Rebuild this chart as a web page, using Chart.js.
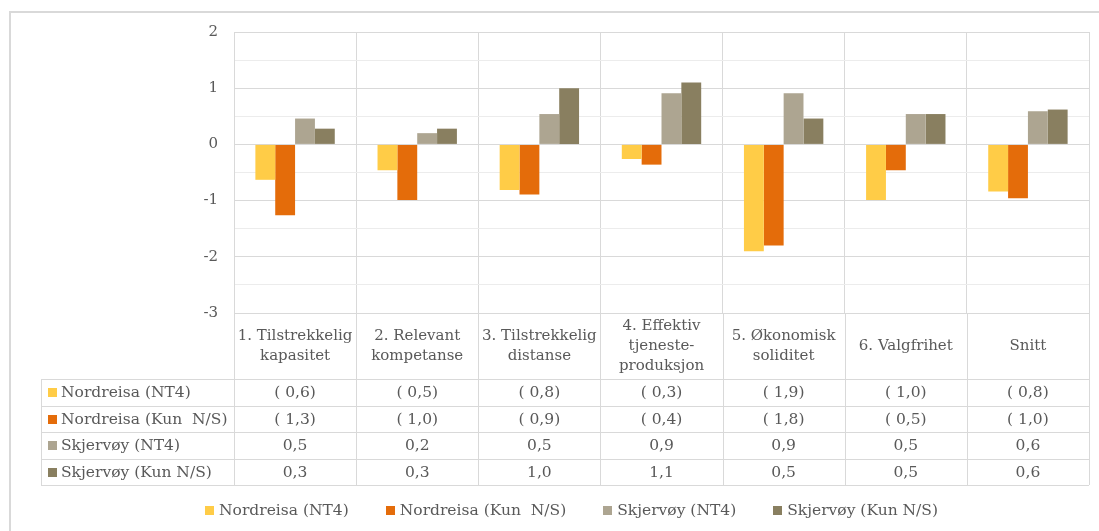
<!DOCTYPE html>
<html>
<head>
<meta charset="utf-8">
<title>Nordreisa og Skjervøy</title>
<script src="https://cdn.jsdelivr.net/npm/chart.js@4.4.0/dist/chart.umd.min.js"></script>
<style>
    html, body { margin: 0; padding: 0; background: #fff; }
    #wrap { width: 1099px; height: 531px; }
</style>
</head>
<body>
<div id="wrap"><canvas id="chart" width="1099" height="531"></canvas></div>
<script>
// Kategorier (en linje per tekstlinje i tabellhodet)
const categories = [
    ['1. Tilstrekkelig', 'kapasitet'],
    ['2. Relevant', 'kompetanse'],
    ['3. Tilstrekkelig', 'distanse'],
    ['4. Effektiv', 'tjeneste-', 'produksjon'],
    ['5. Økonomisk', 'soliditet'],
    ['6. Valgfrihet'],
    ['Snitt']
];

const seriesNames = ['Nordreisa (NT4)', 'Nordreisa (Kun  N/S)', 'Skjervøy (NT4)', 'Skjervøy (Kun N/S)'];
const seriesColors = ['#FFCC47', '#E46C0A', '#ADA591', '#897F60'];

const nordreisaNT4 = [-0.63, -0.46, -0.81, -0.26, -1.90, -0.99, -0.84];
const nordreisaKun = [-1.26, -0.99, -0.89, -0.36, -1.80, -0.46, -0.96];
const skjervoyNT4 = [0.46, 0.20, 0.54, 0.91, 0.91, 0.54, 0.59];
const skjervoyKun = [0.28, 0.28, 1.00, 1.10, 0.46, 0.54, 0.62];

const yTicks = [-3, -2, -1, 0, 1, 2];

const FONT = 'DejaVu Serif';
const TEXT_COLOR = '#595959';
const GRID = '#d9d9d9';
const HEADER_H = 66;   // høyde på raden med kategorinavn
const ROW_H = 26.5;    // høyde på hver dataserie-rad
const KEY_LEFT = 41;   // venstre kant på forklaringskolonnen
const LEGEND_LEFT = 205, LEGEND_RIGHT = 938, LEGEND_Y = 511;

// Tall som i Excel: negative i parentes, komma som desimaltegn
function formatValue(v) {
    const s = Math.abs(v).toFixed(1).replace('.', ',');
    return v < 0 ? '( ' + s + ')' : s;
}

// Bakgrunn og ramme rundt hele diagrammet
const frame = {
    id: 'frame',
    beforeDraw(chart) {
        const { ctx, width, height } = chart;
        ctx.save();
        ctx.fillStyle = '#fff';
        ctx.fillRect(0, 0, width, height);
        ctx.strokeStyle = GRID;
        ctx.lineWidth = 2;
        ctx.beginPath();
        ctx.moveTo(10, height);
        ctx.lineTo(10, 12);
        ctx.lineTo(width, 12);
        ctx.stroke();
        ctx.restore();
    }
};

// Datatabell under x-aksen + forklaring nederst
const dataTable = {
    id: 'dataTable',
    afterDraw(chart) {
        const { ctx, chartArea: area, scales: { x } } = chart;
        const datasets = chart.data.datasets;
        const colW = (area.right - area.left) / categories.length;
        const top = area.bottom;
        const rowTop = top + HEADER_H;
        const bottom = rowTop + ROW_H * datasets.length;

        ctx.save();
        ctx.strokeStyle = GRID;
        ctx.lineWidth = 1;
        ctx.beginPath();
        for (let r = 0; r <= datasets.length; r++) {
            const y = Math.round(rowTop + r * ROW_H) + 0.5;
            ctx.moveTo(KEY_LEFT, y);
            ctx.lineTo(area.right, y);
        }
        for (let i = 0; i <= categories.length; i++) {
            const xx = Math.round(area.left + i * colW) + 0.5;
            ctx.moveTo(xx, top);
            ctx.lineTo(xx, bottom);
        }
        ctx.moveTo(KEY_LEFT + 0.5, rowTop);
        ctx.lineTo(KEY_LEFT + 0.5, bottom);
        ctx.stroke();

        ctx.fillStyle = TEXT_COLOR;
        ctx.textBaseline = 'middle';

        // kategorinavn
        ctx.font = '15px "' + FONT + '"';
        ctx.textAlign = 'center';
        categories.forEach((lines, i) => {
            const cx = x.getPixelForValue(i);
            const y0 = top + HEADER_H / 2 - (lines.length - 1) * 10;
            lines.forEach((line, k) => ctx.fillText(line, cx, y0 + k * 20));
        });

        // serierader
        ctx.font = '15.5px "' + FONT + '"';
        datasets.forEach((ds, r) => {
            const cy = rowTop + r * ROW_H + ROW_H / 2 + 1;
            ctx.fillStyle = ds.backgroundColor;
            ctx.fillRect(KEY_LEFT + 7, Math.round(cy - 5), 9, 9);
            ctx.fillStyle = TEXT_COLOR;
            ctx.textAlign = 'left';
            ctx.fillText(ds.label, KEY_LEFT + 20, cy);
            ctx.textAlign = 'center';
            ds.data.forEach((v, i) => {
                ctx.fillText(formatValue(v), x.getPixelForValue(i), cy);
            });
        });

        // forklaring
        const items = datasets.map(ds => ({ ds, w: 9 + 5 + ctx.measureText(ds.label).width }));
        const used = items.reduce((s, it) => s + it.w, 0);
        const gap = (LEGEND_RIGHT - LEGEND_LEFT - used) / (items.length - 1);
        let lx = LEGEND_LEFT;
        ctx.textAlign = 'left';
        items.forEach(it => {
            ctx.fillStyle = it.ds.backgroundColor;
            ctx.fillRect(Math.round(lx), LEGEND_Y - 5, 9, 9);
            ctx.fillStyle = TEXT_COLOR;
            ctx.fillText(it.ds.label, lx + 14, LEGEND_Y);
            lx += it.w + gap;
        });
        ctx.restore();
    }
};

const seriesValues = [nordreisaNT4, nordreisaKun, skjervoyNT4, skjervoyKun];

new Chart(document.getElementById('chart'), {
    type: 'bar',
    data: {
        labels: categories,
        datasets: seriesNames.map((name, i) => ({
            label: name,
            data: seriesValues[i],
            backgroundColor: seriesColors[i],
            borderWidth: 0,
            categoryPercentage: 0.65,
            barPercentage: 1.0
        }))
    },
    options: {
        responsive: false,
        animation: false,
        layout: { padding: { left: 54, right: 10, top: 32, bottom: 36 } },
        plugins: {
            legend: { display: false },
            tooltip: { enabled: false }
        },
        scales: {
            x: {
                ticks: { display: false },
                grid: { offset: true, color: GRID, drawTicks: false },
                border: { display: false },
                afterFit: scale => { scale.height = 182; }
            },
            y: {
                min: yTicks[0],
                max: yTicks[yTicks.length - 1],
                ticks: {
                    stepSize: 0.5,
                    padding: 16,
                    color: TEXT_COLOR,
                    font: { family: FONT, size: 15 },
                    callback: v => yTicks.includes(v) ? String(v) : ''
                },
                grid: {
                    drawTicks: false,
                    color: c => Number.isInteger(c.tick.value) ? GRID : '#ececec'
                },
                border: { color: GRID },
                afterFit: scale => { scale.width = 180; }
            }
        }
    },
    plugins: [frame, dataTable]
});
</script>
</body>
</html>
